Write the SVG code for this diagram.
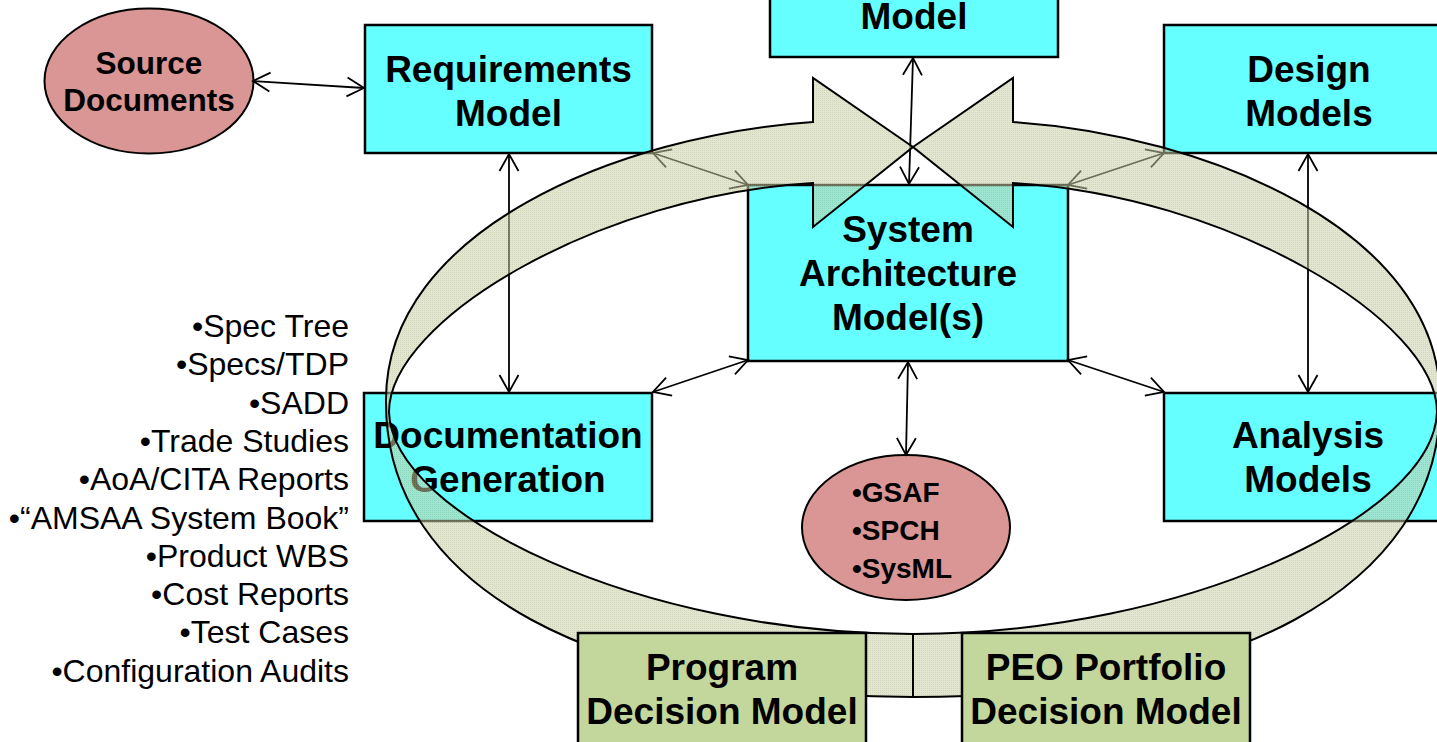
<svg xmlns="http://www.w3.org/2000/svg" width="1437" height="742" viewBox="0 0 1437 742">
  <style>
    .box { fill: #66FFFF; stroke: #000; stroke-width: 2.5; }
    .dec { fill: #C3D69B; stroke: #000; stroke-width: 2.5; }
    .oval { fill: #D99694; stroke: #000; stroke-width: 2; }
    .lbl { font-family: "Liberation Sans", Arial, sans-serif; font-weight: bold; font-size: 37px; fill: #000; text-anchor: middle; }
    .olbl { font-family: "Liberation Sans", Arial, sans-serif; font-weight: bold; fill: #000; }
    .list { font-family: "Liberation Sans", Arial, sans-serif; font-size: 32px; fill: #000; text-anchor: end; }
    .link { fill: none; stroke: #000; stroke-width: 1.8; marker-start: url(#ah); marker-end: url(#ah); }
    .band { fill: url(#grain); fill-opacity: 0.55; stroke: #000; stroke-width: 2; stroke-linejoin: miter; }
  </style>
  <defs>
    <marker id="ah" viewBox="-19 -11 21 22" refX="0" refY="0" markerWidth="21" markerHeight="22" markerUnits="userSpaceOnUse" orient="auto-start-reverse">
      <path d="M-17,-9.5 L0,0 L-17,9.5" fill="none" stroke="#000" stroke-width="1.8"/>
    </marker>
    <!-- fine dotted fill of the band -->
    <pattern id="grain" patternUnits="userSpaceOnUse" width="2" height="2">
      <rect width="2" height="2" fill="rgb(204,210,172)"/>
      <rect width="1" height="1" fill="rgb(172,180,132)"/>
    </pattern>
    <!-- one half of the circulating band: shaft around the left side, head pointing right -->
    <path id="half-band" d="M813,122 L813,78 L913,147 L813,227 L813,183
             C600,195 389,320 389,412
             C392,515 640,634 913,634
             L913,697
             C600,697 384,590 386,400
             C386,230 620,135 813,122 Z"/>
  </defs>

  <rect width="1437" height="742" fill="#fff"/>

  <!-- model boxes -->
  <g id="operational-model">
    <rect class="box" x="770" y="-30" width="288" height="87"/>
    <text class="lbl" x="914" y="29">Model</text>
  </g>
  <g id="requirements-model">
    <rect class="box" x="365" y="25" width="287" height="128"/>
    <text class="lbl" x="508.5" y="82">Requirements</text>
    <text class="lbl" x="508.5" y="126">Model</text>
  </g>
  <g id="design-models">
    <rect class="box" x="1164" y="25" width="290" height="128"/>
    <text class="lbl" x="1309" y="82">Design</text>
    <text class="lbl" x="1309" y="126">Models</text>
  </g>
  <g id="system-architecture">
    <rect class="box" x="748" y="185" width="320" height="176"/>
    <text class="lbl" x="908" y="242">System</text>
    <text class="lbl" x="908" y="286">Architecture</text>
    <text class="lbl" x="908" y="330">Model(s)</text>
  </g>
  <g id="documentation-generation">
    <rect class="box" x="364" y="393" width="288" height="128"/>
    <text class="lbl" x="508" y="448">Documentation</text>
    <text class="lbl" x="508" y="492">Generation</text>
  </g>
  <g id="analysis-models">
    <rect class="box" x="1164" y="393" width="290" height="128"/>
    <text class="lbl" x="1308" y="448">Analysis</text>
    <text class="lbl" x="1308" y="492">Models</text>
  </g>

  <!-- oval sources -->
  <g id="source-documents">
    <ellipse class="oval" cx="149" cy="81" rx="104.5" ry="72.5"/>
    <text class="olbl" font-size="31.5" text-anchor="middle" x="149" y="74">Source</text>
    <text class="olbl" font-size="31.5" text-anchor="middle" x="149" y="111">Documents</text>
  </g>
  <g id="frameworks">
    <ellipse class="oval" cx="906" cy="527.5" rx="104" ry="72.5"/>
    <text class="olbl" font-size="28" x="852" y="502">•GSAF</text>
    <text class="olbl" font-size="28" x="852" y="540">•SPCH</text>
    <text class="olbl" font-size="28" x="852" y="578">•SysML</text>
  </g>

  <!-- generated documents list -->
  <g id="document-list">
    <text class="list" x="349" y="337">•Spec Tree</text>
    <text class="list" x="349" y="375.3">•Specs/TDP</text>
    <text class="list" x="349" y="413.6">•SADD</text>
    <text class="list" x="349" y="451.9">•Trade Studies</text>
    <text class="list" x="349" y="490.2">•AoA/CITA Reports</text>
    <text class="list" x="349" y="528.5">•“AMSAA System Book”</text>
    <text class="list" x="349" y="566.8">•Product WBS</text>
    <text class="list" x="349" y="605.1">•Cost Reports</text>
    <text class="list" x="349" y="643.4">•Test Cases</text>
    <text class="list" x="349" y="681.7">•Configuration Audits</text>
  </g>

  <!-- two-way links -->
  <g id="connectors">
    <line class="link" x1="253" y1="81" x2="364" y2="88"/>
    <line class="link" x1="913" y1="58" x2="909" y2="184"/>
    <line class="link" x1="509" y1="154" x2="509" y2="392"/>
    <line class="link" x1="653" y1="153" x2="748" y2="185"/>
    <line class="link" x1="1164" y1="153" x2="1068" y2="185"/>
    <line class="link" x1="748" y1="360" x2="653" y2="392"/>
    <line class="link" x1="1068" y1="360" x2="1164" y2="392"/>
    <line class="link" x1="1308" y1="154" x2="1308" y2="392"/>
    <line class="link" x1="908" y1="362" x2="906" y2="455"/>
  </g>

  <!-- circulating band, two mirrored halves meeting head to head -->
  <g id="cycle-band">
    <use href="#half-band" class="band"/>
    <use href="#half-band" class="band" transform="matrix(-1 0 0 1 1826 0)"/>
  </g>

  <!-- decision models sit over the band ends -->
  <g id="program-decision-model">
    <rect class="dec" x="578" y="633" width="288" height="130"/>
    <text class="lbl" x="722" y="680">Program</text>
    <text class="lbl" x="722" y="724">Decision Model</text>
  </g>
  <g id="peo-portfolio-decision-model">
    <rect class="dec" x="962" y="633" width="288" height="130"/>
    <text class="lbl" x="1106" y="680">PEO Portfolio</text>
    <text class="lbl" x="1106" y="724">Decision Model</text>
  </g>
</svg>
